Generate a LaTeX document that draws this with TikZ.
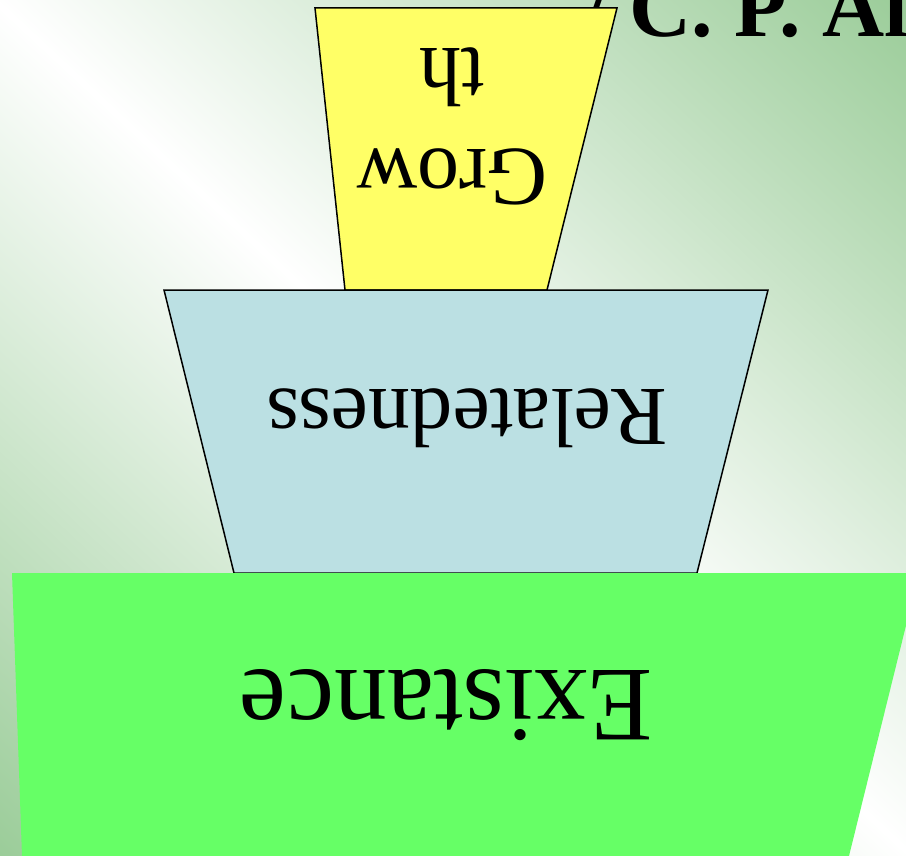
\documentclass[tikz,border=0pt]{standalone}
\usepackage{fontspec}
\setmainfont{Liberation Serif}
\usepackage{tikz}
\usetikzlibrary{positioning}
\definecolor{bggreen}{RGB}{148,201,146}
\definecolor{growyellow}{RGB}{255,255,102}
\definecolor{relblue}{RGB}{187,224,227}
\definecolor{exgreen}{RGB}{102,255,102}
\pgfdeclarehorizontalshading{bgband}{100bp}{color(0bp)=(bggreen); color(12bp)=(bggreen); color(50bp)=(white); color(88bp)=(bggreen); color(100bp)=(bggreen)}

\begin{document}
\begin{tikzpicture}[x=0.5pt,y=-0.5pt,
    tier/.style={draw=black, line width=0.75pt, line join=miter},
    tiertext/.style={rotate=180, inner sep=0pt, align=center}]
   \useasboundingbox (0,0) rectangle (906,856);
   \clip (0,0) rectangle (906,856);
   \begin{scope}[y=0.5pt]
   \shade[shading=bgband, shading angle=47] (0,-856) rectangle (906,0);
   \end{scope}
   \node[anchor=base west, inner sep=0pt, font=\bfseries\fontsize{43}{52}\selectfont] (author) at (584,37) {/ C. P. Al};
   \path[tier, fill=growyellow] (315,8) -- (617,8) -- (547,290) -- (345,290) -- cycle;
   \path[tier, fill=relblue] (164,290) -- (768,290) -- (697,573) -- (234,573) -- cycle;
   \fill[exgreen] (12,573) -- (919,573) -- (849,856) -- (22,856) -- cycle;
   \node[tiertext, font=\fontsize{42}{50.5}\selectfont] (growth) at (452,126) {Grow\\th};
   \node[tiertext, font=\fontsize{42}{50.5}\selectfont] (relatedness) at (467,418) {Relatedness};
   \node[tiertext, font=\fontsize{53}{64}\selectfont] (existance) at (446,705) {Existance};
\end{tikzpicture}
\end{document}
